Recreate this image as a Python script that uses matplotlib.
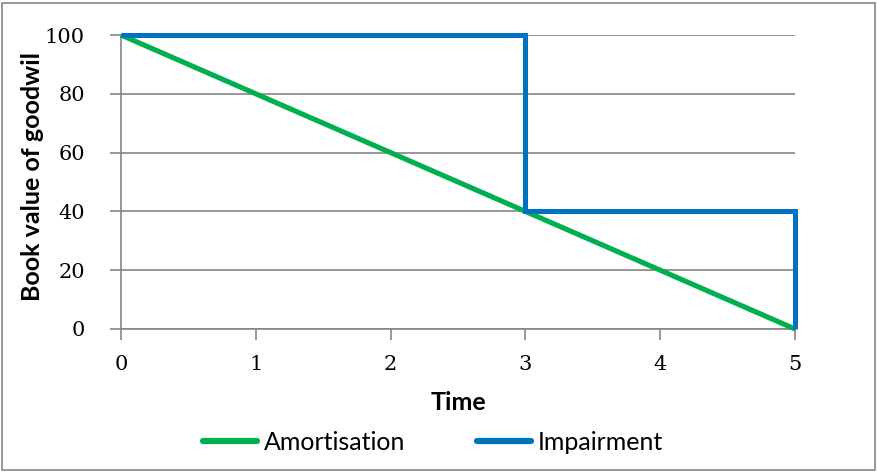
import matplotlib.pyplot as plt
from matplotlib.patches import Rectangle

time_amort = [0, 5]
value_amort = [100, 0]
time_impair = [0, 3, 3, 5, 5]
value_impair = [100, 100, 40, 40, 0]
x_ticks = [0, 1, 2, 3, 4, 5]
y_ticks = [0, 20, 40, 60, 80, 100]

green = '#00B050'
blue = '#0070C0'
grey = '#868686'

fig = plt.figure(figsize=(8.77, 4.73), dpi=100)
ax = fig.add_axes([121 / 877, 1 - 329 / 473, 674 / 877, 294 / 473])

ax.plot(time_amort, value_amort, color=green, lw=3.7, label='Amortisation',
        solid_capstyle='butt', zorder=3, clip_on=False)
ax.plot(time_impair, value_impair, color=blue, lw=3.6, label='Impairment',
        solid_capstyle='butt', solid_joinstyle='miter', zorder=4, clip_on=False)

ax.set_xlim(0, 5)
ax.set_ylim(0, 100)
ax.set_xticks(x_ticks)
ax.set_yticks(y_ticks)
ax.yaxis.grid(True, color=grey, lw=1.2)
ax.set_axisbelow(True)
for side in ['top', 'right']:
    ax.spines[side].set_visible(False)
for side in ['left', 'bottom']:
    ax.spines[side].set_color(grey)
    ax.spines[side].set_linewidth(1.2)
ax.tick_params(axis='both', color=grey, width=1.2, length=8, direction='out')
ax.tick_params(axis='x', pad=11)
ax.tick_params(axis='y', pad=18)
for lbl in ax.get_xticklabels() + ax.get_yticklabels():
    lbl.set_fontfamily('DejaVu Serif')
    lbl.set_fontsize(15)

ax.set_xlabel('Time', fontfamily='Lato', fontweight='bold', fontsize=18)
ax.xaxis.set_label_coords(0.5, -(403 - 329) / 294)
ax.xaxis.label.set_va('center')
ax.set_ylabel('Book value of goodwil', fontfamily='Lato', fontweight='bold',
              fontsize=18)
ax.yaxis.set_label_coords((33 - 121) / 674, (329 - 176) / 294)
ax.yaxis.label.set_va('center')

leg = fig.legend(loc='center', bbox_to_anchor=(433 / 877, 1 - 442 / 473), ncol=2,
                 frameon=False, handlelength=2.16, handletextpad=0.24,
                 columnspacing=2.9, borderpad=0, prop={'family': 'Lato', 'size': 18})
for line in leg.get_lines():
    line.set_linewidth(4.5)
    line.set_solid_capstyle('round')

fig.patches.append(Rectangle((2 / 877, 3 / 473), 873 / 877, 467 / 473,
                             transform=fig.transFigure, fill=False,
                             edgecolor=grey, lw=1.2))

fig.savefig('out.png', dpi=100)
plt.close(fig)
